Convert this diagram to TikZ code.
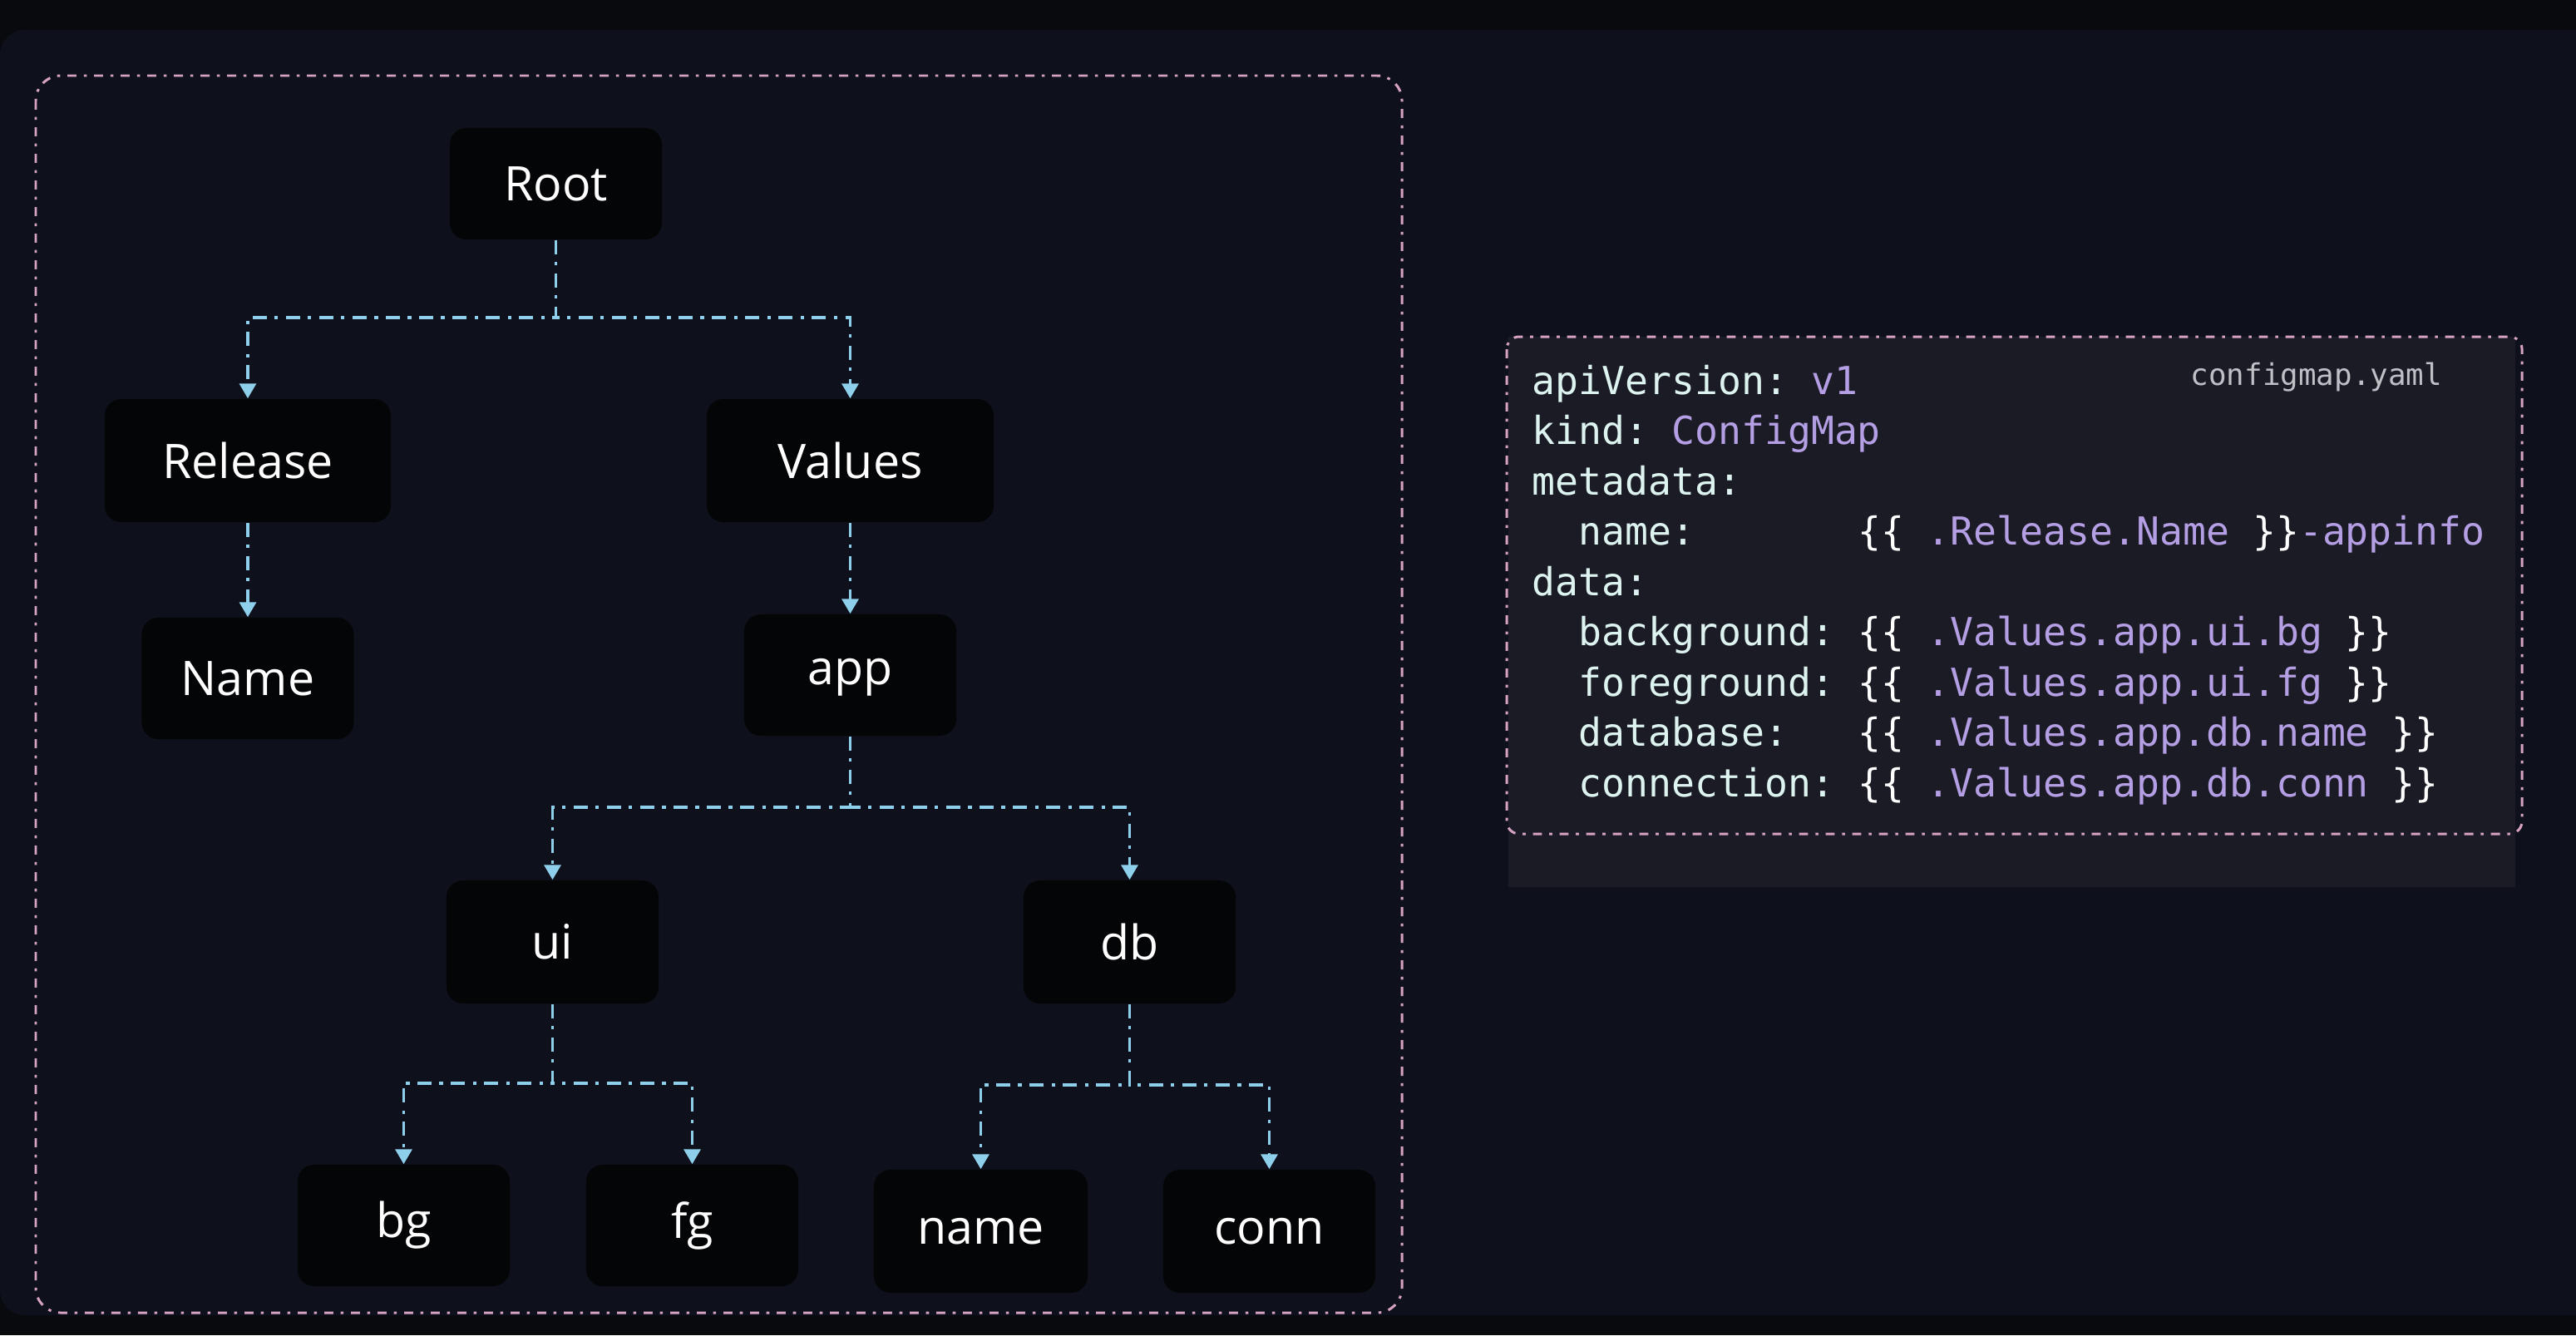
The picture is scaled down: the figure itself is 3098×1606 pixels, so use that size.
\documentclass[tikz,border=0pt]{standalone}
\usepackage{fontspec}
\setmainfont{Open Sans}
\setmonofont{DejaVu Sans Mono}
\usetikzlibrary{arrows.meta}
\definecolor{bgout}{HTML}{080A0E}
\definecolor{panel}{HTML}{0E111B}
\definecolor{nodefill}{HTML}{040507}
\definecolor{linkc}{HTML}{8ECFEB}
\definecolor{pinkc}{HTML}{D6A2C2}
\definecolor{codebg}{HTML}{1B1B26}
\definecolor{keyc}{HTML}{DDF3EF}
\definecolor{valc}{HTML}{B49EE4}
\definecolor{filec}{HTML}{BFC0C6}
\begin{document}
\begin{tikzpicture}[x=0.01cm,y=-0.01cm,
 box/.style={fill=nodefill, rounded corners=0.2cm, text=white, font=\fontsize{16.3}{19}\selectfont, inner sep=0pt, minimum width=2.55cm},
 link/.style={draw=linkc, line width=1pt, dash pattern=on 4.8pt off 2.7pt on 1.2pt off 2.7pt, -{Triangle[width=0.2cm,length=0.18cm]}},
 frame/.style={draw=pinkc, line width=0.85pt, dash pattern=on 3.1pt off 2.5pt on 1pt off 2.5pt},
 code/.style={anchor=mid west, inner sep=0pt, font=\ttfamily\fontsize{13.2}{15}\selectfont, text=keyc}]
\useasboundingbox (0,0) rectangle (3098,1606);
\fill[bgout] (0,0) rectangle (3098,1606);
\fill[panel, rounded corners=0.3cm] (0,36) rectangle (3160,1582);
% left frame
\draw[frame, rounded corners=0.3cm] (43,91) rectangle (1686,1579);
% nodes
\node[box, minimum height=1.34cm] (root) at (668.5,221) {Root};
\node[box, minimum width=3.44cm, minimum height=1.48cm] (release) at (298,554) {Release};
\node[box, minimum width=3.45cm, minimum height=1.48cm] (values) at (1022.5,554) {Values};
\node[box, minimum height=1.46cm] (rname) at (298,816) {Name};
\node[box, minimum height=1.46cm] (app) at (1022.5,812) {\raisebox{0pt}[\height][0.6\depth]{app}};
\node[box, minimum height=1.48cm] (ui) at (664.5,1133) {ui};
\node[box, minimum height=1.48cm] (db) at (1358.5,1133) {db};
\node[box, minimum height=1.46cm] (bg) at (485.5,1474) {bg};
\node[box, minimum height=1.46cm] (fg) at (832.5,1474) {fg};
\node[box, minimum width=2.57cm, minimum height=1.48cm] (nmnode) at (1179.5,1481) {name};
\node[box, minimum height=1.48cm] (conn) at (1526.5,1481) {conn};
% connectors
\draw[link] (root.south) -- ++(0,93) -| (release.north);
\draw[link] (root.south) -- ++(0,93) -| (values.north);
\draw[link] (release.south) -- (rname.north);
\draw[link] (values.south) -- (app.north);
\draw[link] (app.south) -- ++(0,85) -| (ui.north);
\draw[link] (app.south) -- ++(0,85) -| (db.north);
\draw[link] (ui.south) -- ++(0,95) -| (bg.north);
\draw[link] (ui.south) -- ++(0,95) -| (fg.north);
\draw[link] (db.south) -- ++(0,97) -| (nmnode.north);
\draw[link] (db.south) -- ++(0,97) -| (conn.north);
% code panel
\fill[codebg] (1814,405) rectangle (3025,1067);
\draw[frame, rounded corners=0.15cm] (1812,405) rectangle (3033,1003);
\node[code, text=filec, font=\ttfamily\fontsize{10.2}{12}\selectfont] (file) at (2634,454) {configmap.yaml};
\node[code] (l1) at (1842,465) {apiVersion: \textcolor{valc}{v1}};
\node[code] (l2) at (1842,525.5) {kind: \textcolor{valc}{ConfigMap}};
\node[code] (l3) at (1842,586) {metadata:};
\node[code] (l4) at (1898,646.5) {name:\ \ \ \ \ \ \ \textcolor{white}{\{\{} \textcolor{valc}{.Release.Name} \textcolor{white}{\}\}}\textcolor{valc}{-appinfo}};
\node[code] (l5) at (1842,707) {data:};
\node[code] (l6) at (1898,767.5) {background: \textcolor{white}{\{\{} \textcolor{valc}{.Values.app.ui.bg} \textcolor{white}{\}\}}};
\node[code] (l7) at (1898,828) {foreground: \textcolor{white}{\{\{} \textcolor{valc}{.Values.app.ui.fg} \textcolor{white}{\}\}}};
\node[code] (l8) at (1898,888.5) {database:\ \ \ \textcolor{white}{\{\{} \textcolor{valc}{.Values.app.db.name} \textcolor{white}{\}\}}};
\node[code] (l9) at (1898,949) {connection: \textcolor{white}{\{\{} \textcolor{valc}{.Values.app.db.conn} \textcolor{white}{\}\}}};
\end{tikzpicture}
\end{document}
